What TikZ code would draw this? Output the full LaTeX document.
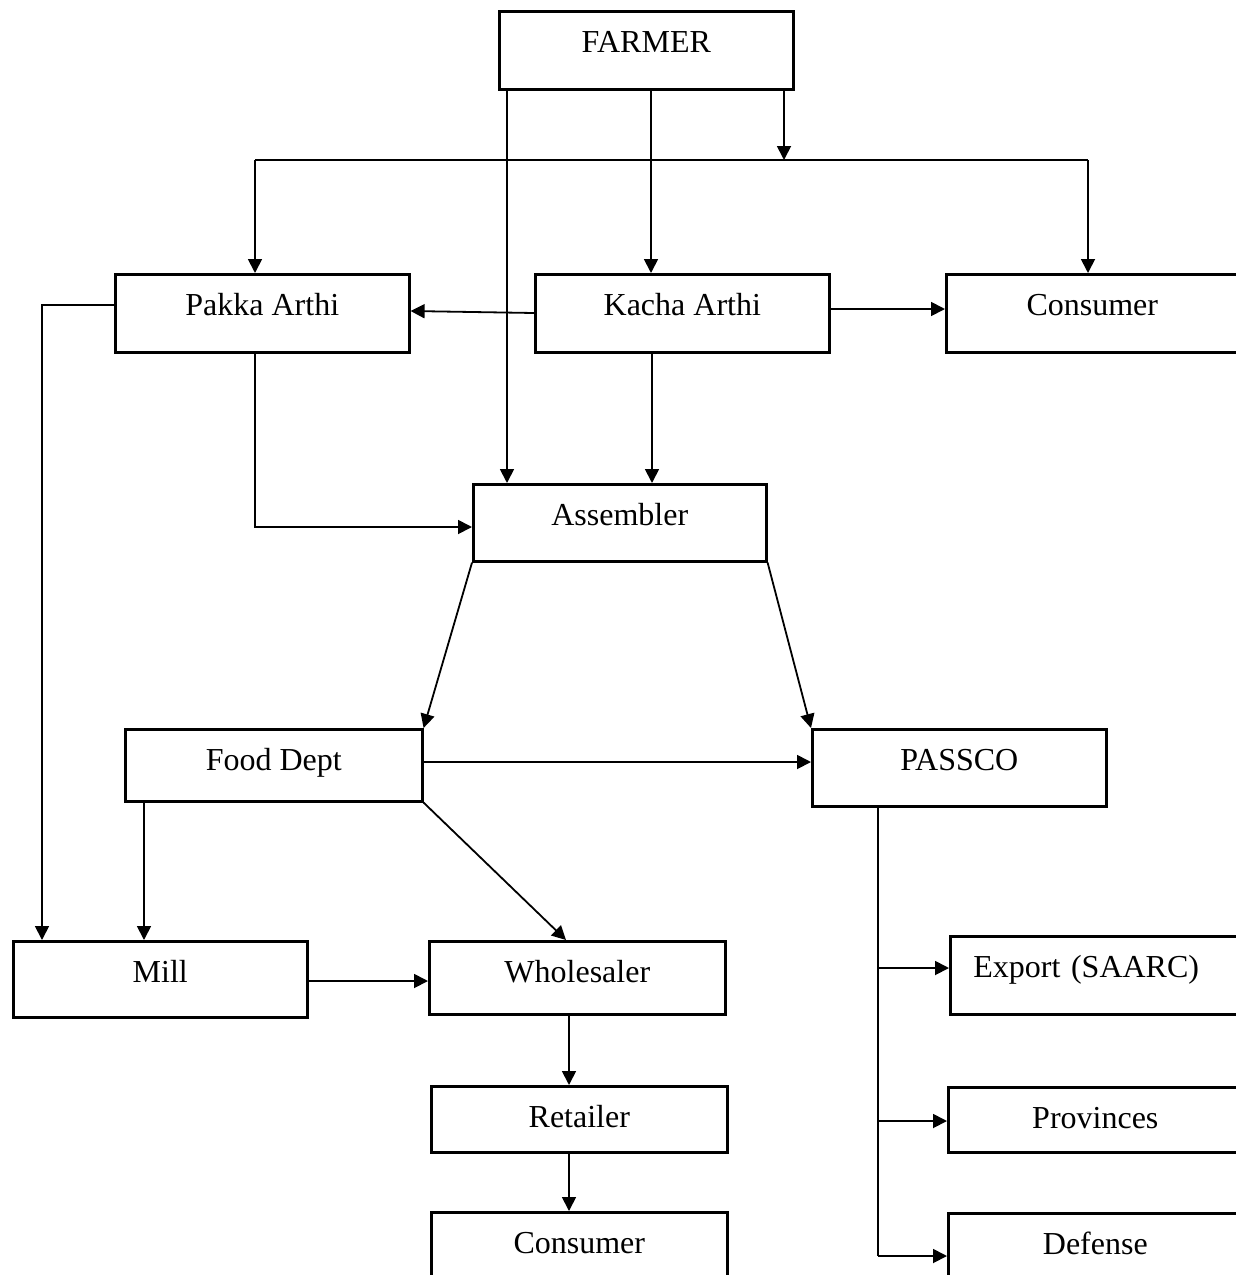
\documentclass[tikz,border=0pt]{standalone}
\usepackage{fontspec}
\setmainfont{Liberation Serif}
\usetikzlibrary{positioning}
\usetikzlibrary{arrows.meta}
\tikzset{
    mybox/.style = {rectangle, draw=black, line width=2.6pt, anchor=north west, inner xsep=0pt, inner ysep=0pt, minimum width=294pt, text height=41pt, text depth=#1, font=\fontsize{32}{38}\selectfont, text=black},
    mybox/.default = 37pt,
    edgea/.style = {-{Triangle[length=14pt,width=14pt]}, line width=1.8pt, black}, % arrow
    edgen/.style = {-, line width=1.8pt, black}, % plain line
}
\begin{document}
\begin{tikzpicture}[x=1pt,y=-1pt]
\useasboundingbox (0,0) rectangle (1235,1275);
\node[mybox] at ( 498,   10) (farmer) {FARMER};
\node[mybox] at ( 114,  273) (pakka) {Pakka Arthi};
\node[mybox] at ( 534,  273) (kacha) {Kacha Arthi};
\node[mybox, minimum width=292pt] at ( 945,  273) (consumera) {Consumer};
\node[mybox=36pt, minimum width=293pt] at ( 472,  483) (assembler) {Assembler};
\node[mybox=31pt, minimum width=297pt] at ( 124,  728) (food) {Food Dept};
\node[mybox=36pt] at ( 811,  728) (passco) {PASSCO};
\node[mybox=35pt] at (  12,  940) (mill) {Mill};
\node[mybox=32pt, minimum width=296pt] at ( 428,  940) (wholesaler) {Wholesaler};
\node[mybox, inner xsep=23pt, text width=248pt, align=left] at ( 949,  935) (export) {Export (SAARC)};
\node[mybox=25pt, minimum width=296pt] at ( 430, 1085) (retailer) {Retailer};
\node[mybox=24pt] at ( 947, 1086) (provinces) {Provinces};
\node[mybox, minimum width=296pt] at ( 430, 1211) (consumerb) {Consumer};
\node[mybox] at ( 947, 1212) (defense) {Defense};
\coordinate (split) at (784,160);
\coordinate (splitl) at (255,160);
\coordinate (splitr) at (1088,160);
\coordinate (pbase) at (878,1256);
\coordinate (pexp) at (878,968);
\coordinate (pprov) at (878,1121);
\draw[edgea] (farmer.south -| 507,0) -- (assembler.north -| 507,0);
\draw[edgea] (farmer.south -| 651,0) -- (kacha.north -| 651,0);
\draw[edgea] (farmer.south -| split) -- (split);
\draw[edgen] (splitl) -- (splitr);
\draw[edgea] (splitl) -- (pakka.north -| splitl);
\draw[edgea] (splitr) -- (consumera.north -| splitr);
\draw[edgea] (pakka.west |- 0,305) -| (mill.north -| 42,0);
\draw[edgea] (kacha.west |- 0,313) -- (pakka.east |- 0,311);
\draw[edgea] (kacha.east |- 0,309) -- (consumera.west |- 0,309);
\draw[edgea] (kacha.south -| 652,0) -- (assembler.north -| 652,0);
\draw[edgea] (pakka.south -| 255,0) |- (assembler.west |- 0,527);
\draw[edgea] (assembler.south west) -- (food.north east);
\draw[edgea] (assembler.south east) -- (passco.north west);
\draw[edgea] (food.east |- 0,762) -- (passco.west |- 0,762);
\draw[edgea] (food.south -| 144,0) -- (mill.north -| 144,0);
\draw[edgea] (food.south east) -- (wholesaler.north -| 566,0);
\draw[edgea] (mill.east |- 0,981) -- (wholesaler.west |- 0,981);
\draw[edgea] (wholesaler.south -| 569,0) -- (retailer.north -| 569,0);
\draw[edgea] (retailer.south -| 569,0) -- (consumerb.north -| 569,0);
\draw[edgen] (passco.south -| pbase) -- (pbase);
\draw[edgea] (pexp) -- (export.west |- pexp);
\draw[edgea] (pprov) -- (provinces.west |- pprov);
\draw[edgea] (pbase) -- (defense.west |- pbase);

\end{tikzpicture}
\end{document}
